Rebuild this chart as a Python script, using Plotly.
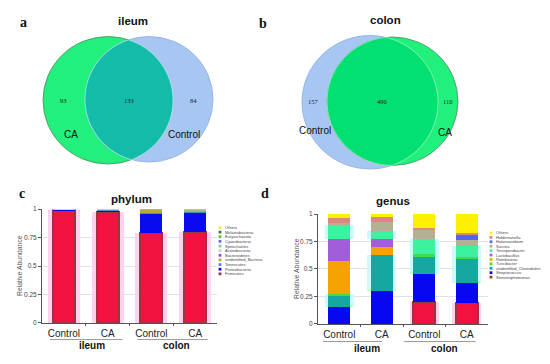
import numpy as np
import plotly.graph_objects as go

W, H = 550, 364
PAGE_OFFSET = 8  # default body margin of the html page

# ---------------- data ----------------
ileum_venn_labels = ["CA", "Control"]
ileum_venn_counts = [93, 133, 84]      # CA only, shared, Control only
colon_venn_labels = ["Control", "CA"]
colon_venn_counts = [157, 490, 110]    # Control only, shared, CA only

sample_labels = ["Control", "CA", "Control", "CA"]
site_labels = ["ileum", "colon"]
sample_pos = [0, 1, 2, 3]
tick_vals = [0, 0.25, 0.5, 0.75, 1]
tick_text = ["0", "0.25", "0.5", "0.75", "1"]

# phylum (stack order bottom -> top)
phylum_names = ["Firmicutes", "Proteobacteria", "Tenericutes", "unidentified_Bacteria",
                "Bacteroidetes", "Actinobacteria", "Spirochaetes", "Cyanobacteria",
                "Euryarchaeota", "Melainabacteria", "Others"]
firmicutes = [0.988, 0.970, 0.790, 0.795]
proteobacteria = [0.004, 0.020, 0.168, 0.178]
tenericutes = [0.001, 0.002, 0.005, 0.006]
unidentified_bacteria = [0.002, 0.002, 0.032, 0.004]
bacteroidetes = [0.003, 0.004, 0.003, 0.004]
actinobacteria = [0.001, 0.001, 0.001, 0.004]
spirochaetes = [0.0, 0.0, 0.001, 0.002]
cyanobacteria = [0.0, 0.0, 0.0, 0.001]
euryarchaeota = [0.0, 0.0, 0.0, 0.003]
melainabacteria = [0.0, 0.0, 0.0, 0.001]
phylum_others = [0.001, 0.001, 0.0, 0.002]
phylum_values = [firmicutes, proteobacteria, tenericutes, unidentified_bacteria,
                 bacteroidetes, actinobacteria, spirochaetes, cyanobacteria,
                 euryarchaeota, melainabacteria, phylum_others]

# genus (stack order bottom -> top)
genus_names = ["Stenotrophomonas", "Streptococcus", "unidentified_Clostridiales", "Turicibacter",
               "Romboutsia", "Lactobacillus", "Terrisporobacter", "Sarcina", "Halanaerobium",
               "Holdemanella", "Others"]
stenotrophomonas = [0.0, 0.0, 0.196, 0.19]
streptococcus = [0.15, 0.30, 0.254, 0.18]
unidentified_clostridiales = [0.10, 0.325, 0.155, 0.22]
turicibacter = [0.02, 0.0, 0.03, 0.02]
romboutsia = [0.305, 0.075, 0.0, 0.0]
lactobacillus = [0.20, 0.075, 0.0, 0.0]
terrisporobacter = [0.126, 0.066, 0.135, 0.10]
sarcina = [0.02, 0.09, 0.087, 0.05]
halanaerobium = [0.0, 0.0, 0.0, 0.05]
holdemanella = [0.04, 0.04, 0.013, 0.02]
genus_others = [0.039, 0.029, 0.13, 0.17]
genus_values = [stenotrophomonas, streptococcus, unidentified_clostridiales, turicibacter,
                romboutsia, lactobacillus, terrisporobacter, sarcina, halanaerobium,
                holdemanella, genus_others]

# ---------------- styles ----------------
RED, RED_EDGE = "#F2123F", "#9A3542"
PINK_GLOW, CYAN_GLOW, NO_GLOW = "rgba(255,205,238,0.9)", "rgba(200,250,255,0.9)", "rgba(0,0,0,0)"
phylum_colors = [RED, "#0A0AF0", "#4A90B8", "#B8A83A", "#9A4AE0", "#A8E0C8",
                 "#A0C090", "#6A6AF0", "#58C040", "#3A7A3A", "#E8F040"]
phylum_glow = [PINK_GLOW] + [NO_GLOW] * 10
genus_colors = [RED, "#0808F0", "#14A8A0", "#48D848", "#F5A300", "#A25ED8",
                "#3DF29E", "#B8AE94", "#4A6AE8", "#D98A7A", "#FFF000"]
genus_glow = [PINK_GLOW, NO_GLOW, CYAN_GLOW, CYAN_GLOW, NO_GLOW, NO_GLOW,
              CYAN_GLOW, NO_GLOW, NO_GLOW, NO_GLOW, NO_GLOW]

SANS = "Liberation Sans, Arial, sans-serif"
SERIF = "Liberation Serif, Times New Roman, serif"


def px(x):
    return (x - PAGE_OFFSET) / W


def py(y):
    return 1 - (y - PAGE_OFFSET) / H


fig = go.Figure()

# soft halo behind bars (base axes), then the bars themselves (overlay axes)
for name, vals, g in zip(phylum_names, phylum_values, phylum_glow):
    fig.add_trace(go.Bar(x=sample_pos, y=vals, width=0.73, marker=dict(color=g, line=dict(width=0)),
                         xaxis="x", yaxis="y", showlegend=False, hoverinfo="skip"))
for name, vals, g in zip(genus_names, genus_values, genus_glow):
    fig.add_trace(go.Bar(x=sample_pos, y=vals, width=0.68, marker=dict(color=g, line=dict(width=0)),
                         xaxis="x2", yaxis="y2", showlegend=False, hoverinfo="skip"))

for name, vals, col in zip(phylum_names, phylum_values, phylum_colors):
    edge = RED_EDGE if col == RED else col
    lw = 2 if col == RED else 0
    fig.add_trace(go.Bar(x=sample_pos, y=vals, name=name, width=0.5,
                         marker=dict(color=col, line=dict(color=edge, width=lw)),
                         xaxis="x3", yaxis="y3", showlegend=False))
for name, vals, col in zip(genus_names, genus_values, genus_colors):
    edge = RED_EDGE if col == RED else col
    lw = 2 if col == RED else 0
    fig.add_trace(go.Bar(x=sample_pos, y=vals, name=name, width=0.52,
                         marker=dict(color=col, line=dict(color=edge, width=lw)),
                         xaxis="x4", yaxis="y4", showlegend=False))


def xaxis_style(dom):
    return dict(domain=dom, range=[-0.5, 3.5], tickmode="array", tickvals=sample_pos,
                ticktext=sample_labels, tickfont=dict(family=SANS, size=10, color="#222"),
                showline=True, linecolor="#555", linewidth=1, ticks="", showgrid=False,
                zeroline=False, fixedrange=True, ticklabelstandoff=1,
                minor=dict(tickvals=[0.5, 1.5, 2.5], ticks="outside", ticklen=2,
                           tickcolor="#555", showgrid=False))


def yaxis_style(dom, anchor):
    return dict(domain=dom, range=[0, 1], tickmode="array", tickvals=tick_vals,
                ticktext=tick_text, tickfont=dict(family=SANS, size=6.5, color="#444"),
                showline=True, linecolor="#555", linewidth=1, ticks="outside", ticklen=3,
                tickcolor="#555", showgrid=True, gridcolor="#E2E2E2", gridwidth=1,
                zeroline=False, anchor=anchor, fixedrange=True)


def overlay(base):
    return dict(overlaying=base, range=[-0.5, 3.5] if base.startswith("x") else [0, 1],
                visible=False, showgrid=False, zeroline=False, fixedrange=True)


fig.update_layout(
    width=W, height=H, autosize=False, margin=dict(l=0, r=0, t=0, b=0),
    paper_bgcolor="white", plot_bgcolor="rgba(0,0,0,0)", barmode="stack", bargap=0,
    xaxis=dict(xaxis_style([px(42), px(217)]), anchor="y"),
    yaxis=yaxis_style([py(325), py(209)], "x"),
    xaxis2=dict(xaxis_style([px(318), px(488)]), anchor="y2"),
    yaxis2=yaxis_style([py(326), py(214)], "x2"),
    xaxis3=dict(overlay("x"), anchor="y3"),
    yaxis3=dict(overlay("y"), anchor="x3"),
    xaxis4=dict(overlay("x2"), anchor="y4"),
    yaxis4=dict(overlay("y2"), anchor="x4"),
)

shapes = []
annotations = []


def text(x, y, t, size, family=SANS, color="#111", **kw):
    annotations.append(dict(x=px(x), y=py(y), xref="paper", yref="paper", text=t,
                            showarrow=False, font=dict(family=family, size=size, color=color),
                            xanchor=kw.pop("xanchor", "center"), yanchor=kw.pop("yanchor", "middle"),
                            **kw))


def circle(cx, cy, r, fill, line, lw=1):
    shapes.append(dict(type="circle", xref="paper", yref="paper", x0=px(cx - r), x1=px(cx + r),
                       y0=py(cy + r), y1=py(cy - r), fillcolor=fill,
                       line=dict(color=line, width=lw), layer="above"))


def lens(c1, r1, c2, r2, fill, line, n=60):
    (x1, y1), (x2, y2) = c1, c2
    d = np.hypot(x2 - x1, y2 - y1)
    a = (r1 ** 2 - r2 ** 2 + d ** 2) / (2 * d)
    t12 = np.arctan2(y2 - y1, x2 - x1)
    a1 = np.arccos(a / r1)
    a2 = np.arccos((d - a) / r2)
    th1 = np.linspace(t12 - a1, t12 + a1, n)
    th2 = np.linspace(t12 + np.pi - a2, t12 + np.pi + a2, n)
    pts = [(x1 + r1 * np.cos(t), y1 + r1 * np.sin(t)) for t in th1]
    pts += [(x2 + r2 * np.cos(t), y2 + r2 * np.sin(t)) for t in th2]
    path = "M " + " L ".join(f"{px(x):.5f},{py(y):.5f}" for x, y in pts) + " Z"
    shapes.append(dict(type="path", xref="paper", yref="paper", path=path, fillcolor=fill,
                       line=dict(color=line, width=0.8), layer="above"))


GREEN, BLUE = "#22F07C", "#A8C6F2"

# panel a: ileum venn
cA, rA = (108, 98), 65
cB, rB = (149, 97), 64
circle(*cA, rA, GREEN, "rgba(80,140,90,0.8)")
circle(*cB, rB, BLUE, "#98B6EC")
lens(cA, rA, cB, rB, "#12BCA8", "rgba(190,240,235,0.8)")
text(63, 98, str(ileum_venn_counts[0]), 6.5, SERIF, "#222")
text(129, 98, str(ileum_venn_counts[1]), 6.5, SERIF, "#222")
text(193, 98, str(ileum_venn_counts[2]), 6.5, SERIF, "#222")
text(71, 133, ileum_venn_labels[0], 10)
text(184, 133, ileum_venn_labels[1], 10)
text(133, 17, "<b>ileum</b>", 11.5)
text(23, 19, "<b>a</b>", 14, SERIF)

# panel b: colon venn
cC, rC = (370, 100), 68
cD, rD = (392.5, 99), 65.5
circle(*cC, rC, BLUE, "#98B6EC")
circle(*cD, rD, GREEN, "rgba(80,140,90,0.8)")
lens(cD, rD, cC, rC, "#02E072", "rgba(190,245,215,0.8)")
text(313, 99, str(colon_venn_counts[0]), 6.5, SERIF, "#222")
text(382, 99, str(colon_venn_counts[1]), 6.5, SERIF, "#222")
text(448, 99, str(colon_venn_counts[2]), 6.5, SERIF, "#222")
text(315, 129, colon_venn_labels[0], 10)
text(445, 131, colon_venn_labels[1], 10)
text(385, 16, "<b>colon</b>", 11.5)
text(263, 20, "<b>b</b>", 14, SERIF)

# panel c/d titles and letters
text(131, 199, "<b>phylum</b>", 11.5)
text(22, 193, "<b>c</b>", 14, SERIF)
text(393, 201, "<b>genus</b>", 11.5)
text(265, 193, "<b>d</b>", 14, SERIF)

# y-axis titles
text(19, 267, "Relative Abundance", 6.8, SANS, "#555", textangle=-90)
text(297, 270, "Relative Abundance", 6.8, SANS, "#555", textangle=-90)

# group underlines and labels
for xref, ypx, spans in (("x", 342, [(-0.32, 1.34), (1.68, 3.29)]),
                         ("x2", 344, [(-0.38, 1.0), (1.52, 3.21)])):
    for x0, x1 in spans:
        shapes.append(dict(type="line", xref=xref, yref="paper", x0=x0, x1=x1,
                           y0=py(ypx), y1=py(ypx), line=dict(color="#999", width=1)))
text(92, 348.5, "<b>" + site_labels[0] + "</b>", 10)
text(176, 348.5, "<b>" + site_labels[1] + "</b>", 10)
text(367, 351, "<b>" + site_labels[0] + "</b>", 10)
text(444, 351, "<b>" + site_labels[1] + "</b>", 10)


# legends (top -> bottom is reverse of stack order)
def legend(names, colors, xs, y0, step):
    for i, (name, col) in enumerate(zip(names[::-1], colors[::-1])):
        y = y0 + i * step
        edge = RED_EDGE if col == RED else col
        shapes.append(dict(type="rect", xref="paper", yref="paper",
                           x0=px(xs - 1.4), x1=px(xs + 1.4), y0=py(y + 1.4), y1=py(y - 1.4),
                           fillcolor=edge, line=dict(width=0)))
        text(xs + 3, y, name, 4, SANS, "#444", xanchor="left")


legend(phylum_names, phylum_colors, 220, 227.7, 4.73)
legend(genus_names, genus_colors, 491, 233.3, 4.5)

fig.update_layout(shapes=shapes, annotations=annotations)
fig.write_html("out.html")
